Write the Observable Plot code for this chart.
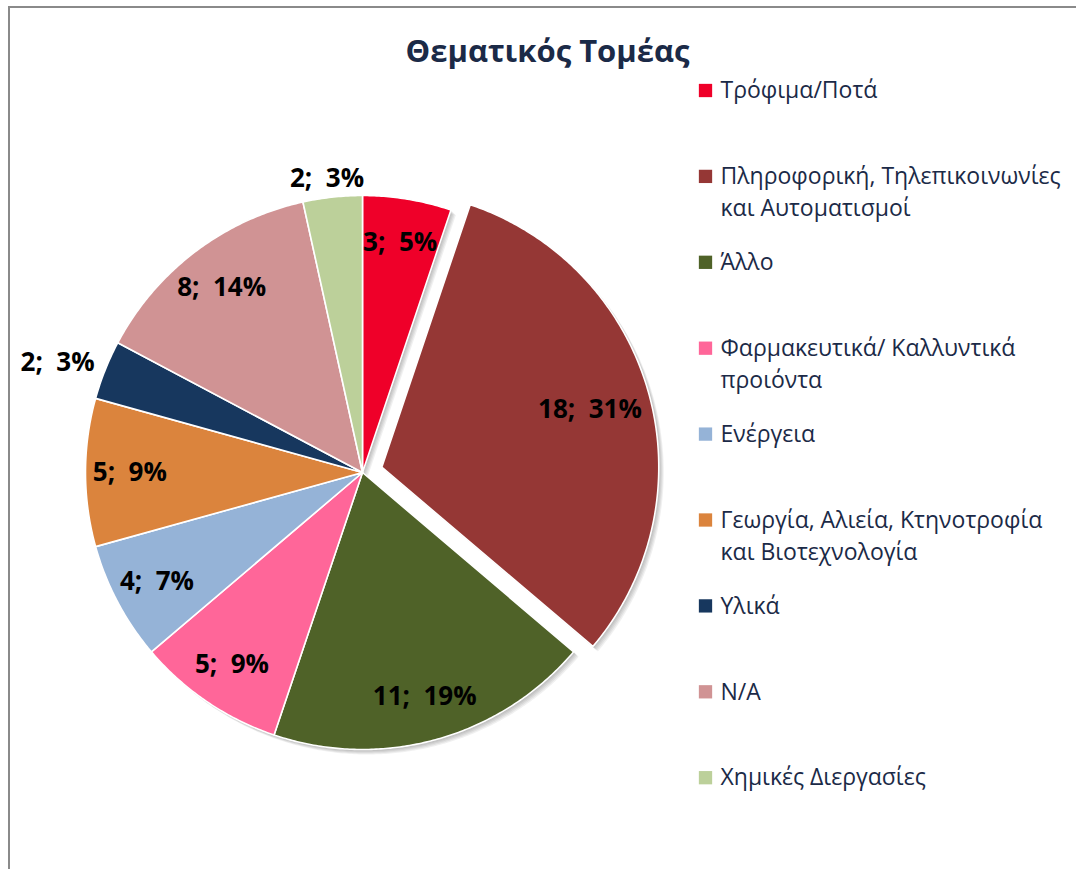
<!DOCTYPE html>
<html>
<head>
<meta charset="utf-8">
<script src="https://cdn.jsdelivr.net/npm/d3@7"></script>
<script src="https://cdn.jsdelivr.net/npm/@observablehq/plot@0.6"></script>
<style>
  html, body { margin: 0; padding: 0; background: #fff; overflow: hidden; }
  #frame { position: absolute; left: 8px; top: 6px; width: 1200px; height: 1000px; border: 2px solid #8a8a8a; box-sizing: border-box; pointer-events: none; }
  #chart { position: absolute; left: 0; top: 0; }
</style>
</head>
<body>
<div id="chart"></div>
<div id="frame"></div>
<script>
// ---- data ----
const categories = [
  "Τρόφιμα/Ποτά",
  "Πληροφορική, Τηλεπικοινωνίες και Αυτοματισμοί",
  "Άλλο",
  "Φαρμακευτικά/ Καλλυντικά προιόντα",
  "Ενέργεια",
  "Γεωργία, Αλιεία, Κτηνοτροφία και Βιοτεχνολογία",
  "Υλικά",
  "N/A",
  "Χημικές Διεργασίες"
];
const values = [3, 18, 11, 5, 4, 5, 2, 8, 2];
const legendLabels = [
  "Τρόφιμα/Ποτά",
  "Πληροφορική, Τηλεπικοινωνίες\nκαι Αυτοματισμοί",
  "Άλλο",
  "Φαρμακευτικά/ Καλλυντικά\nπροιόντα",
  "Ενέργεια",
  "Γεωργία, Αλιεία, Κτηνοτροφία\nκαι Βιοτεχνολογία",
  "Υλικά",
  "N/A",
  "Χημικές Διεργασίες"
];
const colors = ["#ef0029", "#953735", "#4f6228", "#ff6699", "#95b3d7", "#db843d", "#17375e", "#d09394", "#bcd09a"];
const explodedCategory = "Πληροφορική, Τηλεπικοινωνίες και Αυτοματισμοί";
const titleText = "Θεματικός Τομέας";

// ---- layout ----
const W = 1076, H = 869;
const cx = 362, cy = 472, R = 277, explodeDist = 20;
const legendX = 705, legendTop = 90, legendStep = 85.9;
const textColor = "#1b2a47";
const font = "'Open Sans', 'Noto Sans', sans-serif";
const labelSize = 26;

const total = d3.sum(values);
const arcs = d3.pie().sort(null).value(d => d)(values);
const polar = (a, r, ox, oy) => [ox + r * Math.sin(a), oy - r * Math.cos(a)];

const slices = [];
const shadows = [];
const labels = [];
arcs.forEach((a, i) => {
  const name = categories[i];
  const mid = (a.startAngle + a.endAngle) / 2;
  const exploded = name === explodedCategory;
  const off = exploded ? explodeDist : 0;
  const [ox, oy] = polar(mid, off, cx, cy);
  const ring = [[ox, oy]];
  const n = Math.max(2, Math.ceil((a.endAngle - a.startAngle) / (Math.PI / 360)));
  for (let k = 0; k <= n; k++) {
    const t = a.startAngle + (a.endAngle - a.startAngle) * k / n;
    ring.push(polar(t, R, ox, oy));
  }
  ring.push([ox, oy]);
  slices.push({type: "Feature", properties: {name}, geometry: {type: "Polygon", coordinates: [ring]}});
  for (let s = 1; s <= 5; s++) {
    shadows.push({type: "Feature", properties: {name}, geometry: {type: "Polygon", coordinates: [ring.map(([x, y]) => [x + s, y + s])]}});
  }
  const share = values[i] / total;
  const text = `${values[i]};\u00a0 ${Math.round(share * 100)}%`;
  let lx, ly;
  if (share < 0.04) {
    // outside label, nearest edge touching the pie rim
    const [ex, ey] = polar(mid, R + 6, ox, oy);
    const halfW = text.length * labelSize * 0.29, halfH = labelSize * 0.5;
    lx = ex + halfW * Math.sin(mid);
    ly = ey - halfH * Math.cos(mid);
  } else {
    [lx, ly] = polar(mid, R * (exploded ? 0.78 : 0.84), ox, oy);
  }
  labels.push({x: lx, y: ly, text});
});

const legend = categories.map((c, i) => ({name: c, label: legendLabels[i], y: legendTop + i * legendStep}));

const plot = Plot.plot({
  width: W,
  height: H,
  margin: 0,
  projection: "identity",
  color: {domain: categories, range: colors},
  style: {fontFamily: font, background: "transparent"},
  marks: [
    Plot.geo(shadows, {fill: "#000", fillOpacity: 0.06, stroke: "none"}),
    Plot.geo(slices, {fill: d => d.properties.name, stroke: "white", strokeWidth: 1.6}),
    Plot.text(labels, {x: "x", y: "y", text: "text", fill: "black", fontSize: labelSize, fontWeight: "bold", fontFamily: font}),
    Plot.text([titleText], {x: () => 547, y: () => 52, text: d => d, fill: textColor, fontSize: 31, fontWeight: "bold", fontFamily: font}),
    Plot.dot(legend, {x: () => legendX, y: "y", fill: "name", symbol: "square", r: 7.5, stroke: null}),
    Plot.text(legend, {x: () => legendX + 15, y: "y", text: "label", fill: textColor, fontSize: 23, textAnchor: "start", lineAnchor: "top", dy: -15, lineHeight: 1.39, fontFamily: font})
  ]
});

document.getElementById("chart").appendChild(plot);
</script>
</body>
</html>
